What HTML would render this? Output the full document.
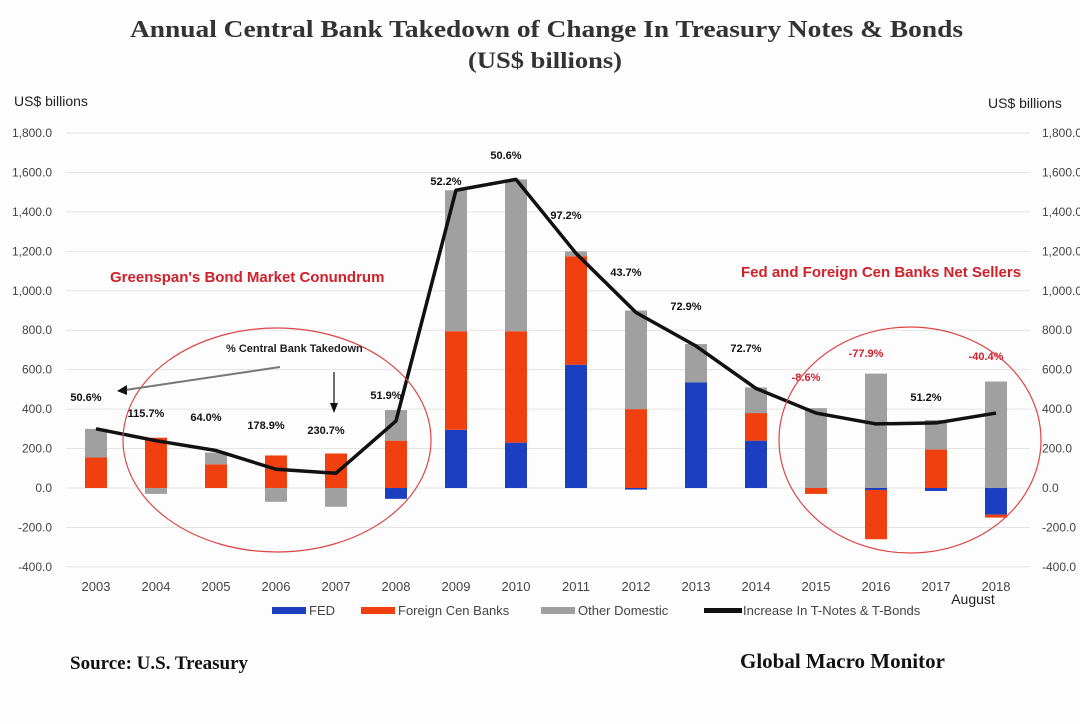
<!DOCTYPE html>
<html><head><meta charset="utf-8">
<style>
body{margin:0;background:#fff;}
svg{display:block;font-family:"Liberation Sans",sans-serif;}
</style></head>
<body>
<svg id="chart" width="1080" height="724" viewBox="0 0 1080 724">
<rect x="0" y="0" width="1080" height="724" fill="#fdfdfd"/>
<text x="130" y="37" textLength="833" lengthAdjust="spacingAndGlyphs" font-family="Liberation Serif,serif" font-weight="bold" font-size="24" fill="#333">Annual  Central  Bank Takedown  of Change In Treasury  Notes &amp; Bonds</text>
<text x="468" y="68" textLength="154" lengthAdjust="spacingAndGlyphs" font-family="Liberation Serif,serif" font-weight="bold" font-size="23" fill="#333">(US$ billions)</text>
<text x="14" y="106" font-size="14" fill="#222">US$ billions</text>
<text x="988" y="108" font-size="14" fill="#222">US$ billions</text>
<g id="grid"></g><g id="ticks"></g><g id="bars"></g><g id="line"></g><g id="labels"></g>
<text x="110" y="282" font-size="15" font-weight="bold" fill="#d0202a">Greenspan's Bond Market Conundrum</text>
<text x="741" y="277" font-size="15" font-weight="bold" fill="#d0202a">Fed and Foreign Cen Banks Net Sellers</text>
<ellipse cx="277" cy="440" rx="154" ry="112" fill="none" stroke="#d44" stroke-width="1.2"/>
<ellipse cx="910" cy="440" rx="131" ry="113" fill="none" stroke="#d44" stroke-width="1.2"/>
<text x="226" y="352" font-size="11" font-weight="bold" fill="#222">%  Central Bank Takedown</text>
<line x1="280" y1="367" x2="125" y2="390" stroke="#777" stroke-width="2"/>
<polygon points="117,391 127,385 127,395" fill="#111"/>
<line x1="334" y1="372" x2="334" y2="405" stroke="#111" stroke-width="1.2"/>
<polygon points="330,403 338,403 334,413" fill="#111"/>
<g id="legend" font-size="13" fill="#444">
<rect x="272" y="607" width="34" height="7" fill="#1c3fc2"/>
<text x="309" y="615">FED</text>
<rect x="361" y="607" width="34" height="7" fill="#f0400f"/>
<text x="398" y="615">Foreign Cen Banks</text>
<rect x="541" y="607" width="34" height="7" fill="#a0a0a0"/>
<text x="578" y="615">Other Domestic</text>
<rect x="704" y="608" width="38" height="5" fill="#111"/>
<text x="743" y="615">Increase In T-Notes &amp; T-Bonds</text>
</g>
<text x="973" y="604" text-anchor="middle" font-size="14" fill="#222">August</text>
<text x="70" y="669" font-family="Liberation Serif,serif" font-weight="bold" font-size="19" fill="#111">Source:  U.S. Treasury</text>
<text x="740" y="668" font-family="Liberation Serif,serif" font-weight="bold" font-size="21" fill="#111">Global Macro Monitor</text>
</svg>
<script>
const years=["2003","2004","2005","2006","2007","2008","2009","2010","2011","2012","2013","2014","2015","2016","2017","2018"];
const fed=[0,0,0,0,0,-55,295,230,625,-8,535,240,0,-10,-15,-135];
const foreign=[155,255,120,165,175,240,500,565,550,400,0,140,-30,-250,195,-15];
const other=[145,-30,60,-70,-95,155,715,770,25,500,195,130,405,580,150,540];
const total=[300,240,190,95,75,340,1510,1565,1190,890,720,505,380,325,330,380];
const pctLabels=["50.6%","115.7%","64.0%","178.9%","230.7%","51.9%","52.2%","50.6%","97.2%","43.7%","72.9%","72.7%","-8.6%","-77.9%","51.2%","-40.4%"];
const pctValues=[441,360,340,299,274,451,1537,1668,1364,1075,903,690,543,664,441,649];
const yTicks=[-400,-200,0,200,400,600,800,1000,1200,1400,1600,1800];
const NS="http://www.w3.org/2000/svg";
function y(v){return 488-v*0.1972;}
function x(i){return 96+i*60;}
function mk(tag,attrs,parent){const e=document.createElementNS(NS,tag);for(const k in attrs)e.setAttribute(k,attrs[k]);document.getElementById(parent).appendChild(e);return e;}
yTicks.forEach(t=>{
 const g=mk('line',{x1:66,x2:1030,y1:y(t),y2:y(t),stroke:'#e4e4e4','stroke-width':1},'grid');
 
 
 const s=t.toFixed(1).replace(/\B(?=(\d{3})+(?!\d))/,',');
 const a=mk('text',{x:52,y:y(t)+4,'text-anchor':'end','font-size':12,fill:'#444'},'ticks');a.textContent=s;
 
 
 const b=mk('text',{x:1042,y:y(t)+4,'font-size':12,fill:'#444'},'ticks');b.textContent=s;
 
 
});
years.forEach((yr,i)=>{
 const t=mk('text',{x:x(i),y:591,'text-anchor':'middle','font-size':13,fill:'#444'},'ticks');t.textContent=yr;
 
 
 let pos=0,neg=0;
 [[fed[i],'#1c3fc2','bar-fed'],[foreign[i],'#f0400f','bar-foreign'],[other[i],'#a0a0a0','bar-other']].forEach(([v,c,n])=>{
  let y0,y1;
  if(v>=0){y0=pos;y1=pos+v;pos=y1;}else{y0=neg;y1=neg+v;neg=y1;}
  const top=y(Math.max(y0,y1)),bot=y(Math.min(y0,y1));
  const r=mk('rect',{x:x(i)-11,y:top,width:22,height:Math.max(0,bot-top),fill:c},'bars');
  
  
 });
 const l=mk('text',{x:x(i)-10,y:y(pctValues[i]),'text-anchor':'middle','font-size':11,'font-weight':'bold',fill:pctLabels[i].startsWith('-')?'#d0202a':'#111'},'labels');
 l.textContent=pctLabels[i];
 
 
});
const p=mk('polyline',{points:total.map((v,i)=>x(i)+','+y(v)).join(' '),fill:'none',stroke:'#111','stroke-width':3.5,'stroke-linejoin':'round'},'line');


</script>
</body></html>
